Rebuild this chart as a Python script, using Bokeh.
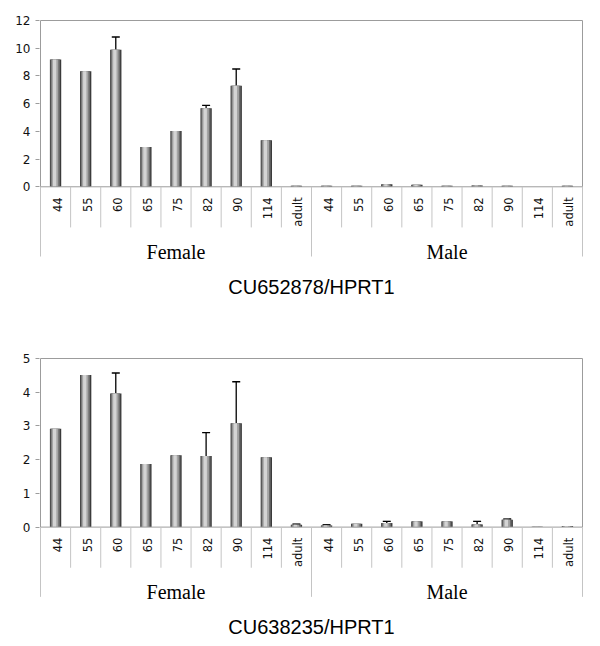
import numpy as np
from bokeh.plotting import figure
from bokeh.models import ColumnDataSource, Range1d, FixedTicker, Whisker, TeeHead
from bokeh.layouts import column
from bokeh.embed import file_html
from bokeh.resources import INLINE
from bokeh.core.properties import value
from bokeh.transform import dodge

# ---------------- data ----------------
ages = ["44", "55", "60", "65", "75", "82", "90", "114", "adult"]
groups = ["Female", "Male"]

top_title = "CU652878/HPRT1"
top_female = [9.18, 8.33, 9.89, 2.87, 4.03, 5.66, 7.29, 3.35, 0.08]
top_male = [0.08, 0.07, 0.19, 0.15, 0.07, 0.10, 0.07, 0.0, 0.08]
top_female_err = [None, None, 10.81, None, None, 5.88, 8.50, None, None]
top_male_err = [None, None, None, None, None, None, None, None, None]
top_ticks = [0, 2, 4, 6, 8, 10, 12]

bot_title = "CU638235/HPRT1"
bot_female = [2.92, 4.51, 3.96, 1.87, 2.13, 2.11, 3.08, 2.07, 0.07]
bot_male = [0.05, 0.10, 0.12, 0.17, 0.17, 0.08, 0.22, 0.01, 0.03]
bot_female_err = [None, None, 4.57, None, None, 2.80, 4.31, None, 0.09]
bot_male_err = [0.07, None, 0.17, None, None, 0.17, 0.24, None, None]
bot_ticks = [0, 1, 2, 3, 4, 5]

BOX = "#9c9c9c"
SEP = "#c4c4c4"
TXT = "#111111"


def make_chart(title, female, male, ferr, merr, ticks, fig_h, top_border, zero_px, frame_h):
    ymax = ticks[-1]
    n = len(ages) * len(groups)
    upp = ymax / zero_px  # data units per pixel (vertical)
    xpad = 1.0 / (542.0 / n)
    ypad = 1.0 * upp
    p = figure(width=592, height=fig_h, output_backend="svg", toolbar_location=None,
               x_range=Range1d(-xpad, n + xpad),
               y_range=Range1d(-(frame_h - zero_px - 1) * upp, ymax + ypad),
               x_axis_location=None, min_border_left=39, min_border_right=9,
               min_border_top=top_border - 1, min_border_bottom=0)
    p.outline_line_color = None
    p.xgrid.visible = False
    p.ygrid.visible = False
    p.background_fill_color = "white"
    p.border_fill_color = "white"

    ax = p.yaxis[0]
    ax.ticker = FixedTicker(ticks=ticks)
    ax.axis_line_color = None
    ax.major_tick_in = 0
    ax.major_tick_out = 4
    ax.major_tick_line_color = BOX
    ax.minor_tick_line_color = None
    ax.major_label_text_font = "DejaVu Sans"
    ax.major_label_text_font_size = "12px"
    ax.major_label_text_color = TXT
    ax.major_label_standoff = 5

    labels = [a for g in groups for a in ages]
    xs = [i + 0.5 for i in range(n)]
    vals = list(female) + list(male)
    errs = list(ferr) + list(merr)

    # plot box
    p.segment(x0=[0, 0, n], y0=[0, ymax, 0], x1=[0, n, n], y1=[ymax, ymax, ymax],
              line_color=BOX, line_width=1)

    # bars with a cylinder-like shading
    src = ColumnDataSource(dict(x=xs, top=vals))
    layers = [(0.376, 0.0, "#3a3a3a"), (0.31, -0.01, "#6c6c6c"),
              (0.22, -0.02, "#a4a4a4"), (0.11, -0.03, "#d4d4d4")]
    for w, off, c in layers:
        p.vbar(x=dodge("x", off), top="top", bottom=0, width=w, source=src,
               fill_color=c, line_color=None)

    # axis line at zero
    p.segment(x0=[0], y0=[0], x1=[n], y1=[0], line_color=BOX, line_width=1)

    # error bars (upper only)
    ex = [xs[i] for i in range(n) if errs[i] is not None]
    eu = [errs[i] for i in range(n) if errs[i] is not None]
    el = [vals[i] for i in range(n) if errs[i] is not None]
    esrc = ColumnDataSource(dict(x=ex, upper=eu, lower=el))
    p.add_layout(Whisker(source=esrc, base="x", upper="upper", lower="lower",
                         upper_head=TeeHead(size=8, line_color="black", line_width=1.3),
                         lower_head=None, line_color="black", line_width=1.3))

    # category separators below axis
    sep_x = [i for i in range(1, n) if i % len(ages) != 0]
    p.segment(x0=sep_x, y0=[0] * len(sep_x), x1=sep_x, y1=[-40.5 * upp] * len(sep_x),
              line_color=SEP, line_width=1)
    grp_x = [k * len(ages) for k in range(len(groups) + 1)]
    p.segment(x0=grp_x, y0=[0] * len(grp_x), x1=grp_x, y1=[-69.5 * upp] * len(grp_x),
              line_color=SEP, line_width=1)

    # category tick labels (rotated)
    lsrc = ColumnDataSource(dict(x=xs, y=[-10.5 * upp] * n, t=labels))
    p.text(x="x", y="y", text="t", source=lsrc, angle=np.pi / 2, x_offset=1.5,
           text_align="right", text_baseline="middle",
           text_font=value("DejaVu Sans"), text_font_size="11.5px", text_color=TXT)

    # group labels
    gx = [k * len(ages) + len(ages) / 2 for k in range(len(groups))]
    gsrc = ColumnDataSource(dict(x=gx, y=[-64.8 * upp] * len(groups), t=groups))
    p.text(x="x", y="y", text="t", source=gsrc, text_align="center",
           text_baseline="middle", text_font=value("Liberation Serif"),
           text_font_size="20px", text_color="black")

    # chart title under the axis
    p.text(x=[n / 2], y=[-99.8 * upp], text=[title], text_align="center",
           text_baseline="middle", text_font=value("Liberation Sans"),
           text_font_size="20px", text_color="black")
    return p


p1 = make_chart(top_title, top_female, top_male, top_female_err, top_male_err, top_ticks,
                fig_h=305, top_border=20, zero_px=165.7, frame_h=285)
p2 = make_chart(bot_title, bot_female, bot_male, bot_female_err, bot_male_err, bot_ticks,
                fig_h=333, top_border=53, zero_px=168.0, frame_h=280)

layout = column(p1, p2, spacing=0)
open("out.html", "w").write(file_html(layout, INLINE))
